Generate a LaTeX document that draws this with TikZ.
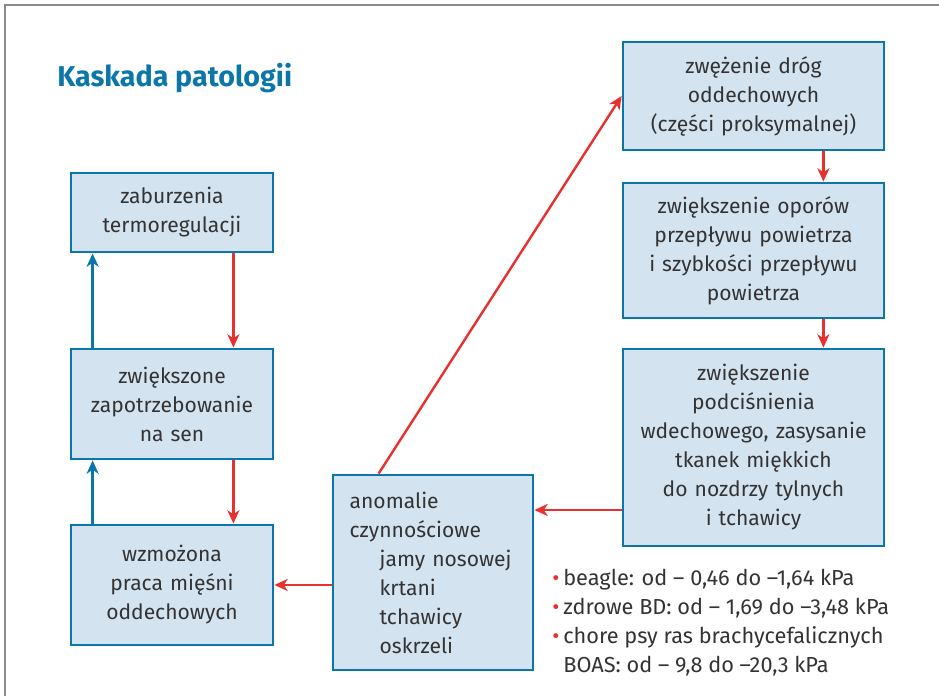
\documentclass[tikz,border=0pt]{standalone}
\usepackage{fontspec}
\setmainfont{Fira Sans}
\usetikzlibrary{arrows.meta}
\definecolor{ramka}{HTML}{0B77A9}
\definecolor{wypelnienie}{HTML}{D4E3F0}
\definecolor{czerwony}{HTML}{E8302E}
\definecolor{tekst}{HTML}{333333}
\definecolor{szary}{HTML}{8A8A8A}
\begin{document}
\begin{tikzpicture}[x=0.75pt,y=-0.75pt]
\tikzstyle{kafel}=[draw=ramka,fill=wypelnienie,line width=2.1pt,inner sep=0pt,
  minimum width=151.5pt,text=tekst,font=\fontsize{15.8}{21.75}\selectfont,align=center]
\tikzstyle{kafel prawy}=[kafel,minimum width=195.75pt,text width=190pt]
\tikzstyle{strzalka}=[draw=czerwony,line width=1.8pt,-{Stealth[length=10pt,width=9pt,inset=3pt]}]
\tikzstyle{strzalka niebieska}=[strzalka,draw=ramka,color=ramka]

\useasboundingbox (0,0) rectangle (939,696);
\draw[szary,line width=1.5pt] (5,696) -- (5,5) -- (939,5);

\node[anchor=base west,inner sep=0pt,text=ramka,font=\fontsize{21.5}{26}\selectfont\bfseries] (tytul) at (57,86) {Kaskada patologii};

\node[kafel,minimum height=59.25pt,text width=148pt] (termo) at (172,212.5) {zaburzenia\\termoregulacji};
\node[kafel,minimum height=82.5pt,text width=148pt] (sen) at (172,404) {zwiększone\\zapotrzebowanie\\na sen};
\node[kafel,minimum height=90pt,text width=148pt] (praca) at (172,585) {wzmożona\\praca mięśni\\oddechowych};
\node[kafel,minimum width=150pt,minimum height=146.25pt,text width=125pt,align=left] (anomalie) at (433,572.5)
  {anomalie\\czynnościowe\\\hspace*{22.5pt}jamy nosowej\\\hspace*{22.5pt}krtani\\\hspace*{22.5pt}tchawicy\\\hspace*{22.5pt}oskrzeli};
\node[kafel prawy,minimum height=81pt] (zwezenie) at (753.5,96) {zwężenie dróg\\oddechowych\\(części proksymalnej)};
\node[kafel prawy,minimum height=101.25pt] (opory) at (753.5,250.5) {zwiększenie oporów\\przepływu powietrza\\i szybkości przepływu\\powietrza};
\node[kafel prawy,minimum height=147.75pt] (podcis) at (753.5,447.5) {zwiększenie\\podciśnienia\\wdechowego, zasysanie\\tkanek miękkich\\do nozdrzy tylnych\\i tchawicy};

\node[anchor=north west,text=tekst,font=\fontsize{16.3}{21.75}\selectfont,inner sep=0pt] (cisnienia) at (552,565)
  {\begin{tabular}{@{}l@{\hspace{3pt}}l@{}}
   \textcolor{czerwony}{•} & beagle: od – 0,46 do –1,64 kPa\\
   \textcolor{czerwony}{•} & zdrowe BD: od – 1,69 do –3,48 kPa\\
   \textcolor{czerwony}{•} & chore psy ras brachycefalicznych\\
    & BOAS: od – 9,8 do –20,3 kPa
   \end{tabular}};

\draw[strzalka niebieska] ([xshift=17.25pt]sen.north west) -- ([xshift=17.25pt]termo.south west);
\draw[strzalka] ([xshift=-30.75pt]termo.south east) -- ([xshift=-30.75pt]sen.north east);
\draw[strzalka niebieska] ([xshift=17.25pt]praca.north west) -- ([xshift=17.25pt]sen.south west);
\draw[strzalka] ([xshift=-30.75pt]sen.south east) -- ([xshift=-30.75pt]praca.north east);
\draw[strzalka] (anomalie.west |- praca.east) -- (praca.east);
\draw[strzalka] ([xshift=35.25pt]anomalie.north west) -- (zwezenie.west);
\draw[strzalka] ([xshift=-46.5pt]zwezenie.south east) -- ([xshift=-46.5pt]opory.north east);
\draw[strzalka] ([xshift=-46.5pt]opory.south east) -- ([xshift=-46.5pt]podcis.north east);
\coordinate (wejscie) at ([yshift=46.875pt]anomalie.east);
\draw[strzalka] (podcis.west |- wejscie) -- (wejscie);
\end{tikzpicture}
\end{document}
